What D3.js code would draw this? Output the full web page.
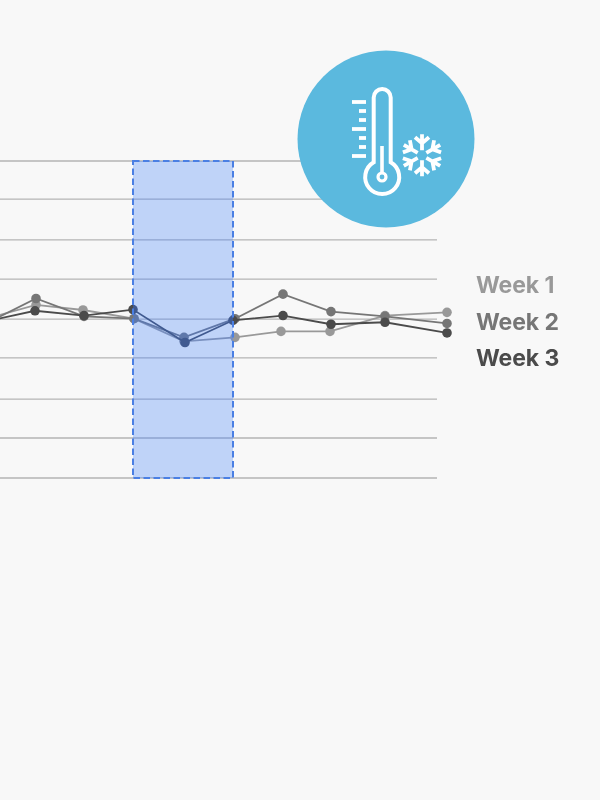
<!DOCTYPE html>
<html>
<head>
<meta charset="utf-8">
<script src="https://cdn.jsdelivr.net/npm/d3@7"></script>
<style>
html,body{margin:0;padding:0;background:#f8f8f8}
svg{display:block}
</style>
</head>
<body>
<div id="chart"></div>
<script>
const gridLevels = [0,1.01,1.99,3.03,4.01,5.02,6.01,7.04,8];
const seriesNames = ["Week 1","Week 2","Week 3"];
const seriesColors = ["#999999","#767676","#4b4b4b"];
const week1Days = [0,1.00,1.94,2.96,3.96,4.98,5.90,6.88,7.98,9.22];
const week2Days = [0,1.00,1.96,2.96,3.96,4.98,5.94,6.90,7.98,9.22];
const week3Days = [0,0.98,1.96,2.94,3.98,4.94,5.94,6.90,7.98,9.22];
const week1Values = [4.02,4.37,4.24,4.02,3.45,3.55,3.70,3.70,4.10,4.18];
const week2Values = [3.90,4.53,4.08,4.02,3.55,4.02,4.64,4.20,4.08,3.90];
const week3Values = [3.95,4.22,4.10,4.25,3.42,3.98,4.10,3.88,3.93,3.66];
const legendOffsets = [0,1,2];

const W=600,H=800;
const x=d3.scaleLinear().domain([0,10]).range([-14,486]);
const y=d3.scaleLinear().domain([0,8]).range([478,161]);
const legendY=d3.scalePoint().domain(legendOffsets).range([293,366]);
const svg=d3.select("#chart").append("svg").attr("width",W).attr("height",H);
svg.append("rect").attr("width",W).attr("height",H).attr("fill","#f8f8f8");

svg.append("g").selectAll("line").data(gridLevels).join("line")
  .attr("x1",0).attr("x2",437)
  .attr("y1",d=>y(d)).attr("y2",d=>y(d))
  .attr("stroke","#b5b5b5").attr("stroke-width",1.3);

const series=[
  {name:seriesNames[0],color:seriesColors[0],days:week1Days,values:week1Values},
  {name:seriesNames[1],color:seriesColors[1],days:week2Days,values:week2Values},
  {name:seriesNames[2],color:seriesColors[2],days:week3Days,values:week3Values}
].map(s=>({...s,pts:s.values.map((v,i)=>[s.days[i],v])}));

const line=d3.line().x(d=>x(d[0])).y(d=>y(d[1]));
const gs=svg.append("g").selectAll("g").data(series).join("g");
gs.append("path").attr("d",d=>line(d.pts)).attr("fill","none")
  .attr("stroke",d=>d.color).attr("stroke-width",1.8);
gs.selectAll("circle").data(d=>d.pts.map(p=>({p,color:d.color}))).join("circle")
  .attr("cx",d=>x(d.p[0])).attr("cy",d=>y(d.p[1])).attr("r",4.8).attr("fill",d=>d.color);

// highlighted band: multiply + screen layers tint the marks navy and the paper pale blue
[["#c3d1fa","multiply"],["#082563","screen"]].forEach(([fill,mode])=>{
  svg.append("rect")
    .attr("x",x(2.94)).attr("width",x(4.94)-x(2.94))
    .attr("y",y(8)).attr("height",y(0)-y(8))
    .attr("fill",fill).style("mix-blend-mode",mode);
});
svg.append("rect")
  .attr("x",x(2.94)).attr("width",x(4.94)-x(2.94))
  .attr("y",y(8)).attr("height",y(0)-y(8))
  .attr("fill","none")
  .attr("stroke","#4a7fe3").attr("stroke-width",2).attr("stroke-dasharray","6.5 3.5");

// legend
svg.append("g").selectAll("text").data(seriesNames).join("text")
  .attr("x",476).attr("y",(d,i)=>legendY(i))
  .attr("font-family","Inter, sans-serif").attr("font-weight",700).attr("font-size",23)
  .attr("letter-spacing",-0.1)
  .attr("fill",(d,i)=>seriesColors[i]).text(d=>d);

// badge
svg.append("circle").attr("cx",386).attr("cy",139).attr("r",88.5).attr("fill","#5bb9de");
const icon=svg.append("g").attr("fill","none").attr("stroke","#fff").attr("stroke-width",4);
icon.append("path").attr("d","M373.7,162.3 V97.5 a8.5,8.5 0 0 1 17,0 V162.3 A17,17 0 1 1 373.7,162.3 Z");
icon.append("circle").attr("cx",382).attr("cy",177).attr("r",4).attr("stroke-width",3.2);
icon.append("line").attr("x1",382).attr("x2",382).attr("y1",146).attr("y2",172).attr("stroke-width",3.6);
const ticks=[[102,1],[111,0],[120,0],[129,1],[138,0],[147,0],[156,1]];
icon.selectAll("line.t").data(ticks).join("line").attr("class","t")
  .attr("x1",d=>d[1]?352:359).attr("x2",366).attr("y1",d=>d[0]).attr("y2",d=>d[0]).attr("stroke-width",3.8);
const flake=svg.append("g").attr("transform","translate(422,155.3)").attr("fill","none").attr("stroke","#fff").attr("stroke-width",3.8);
d3.range(6).forEach(i=>{
  flake.append("path").attr("transform",`rotate(${i*60})`)
    .attr("d","M0,-5 V-21 M-7,-18 L0,-12 L7,-18");
});
</script>
</body>
</html>
